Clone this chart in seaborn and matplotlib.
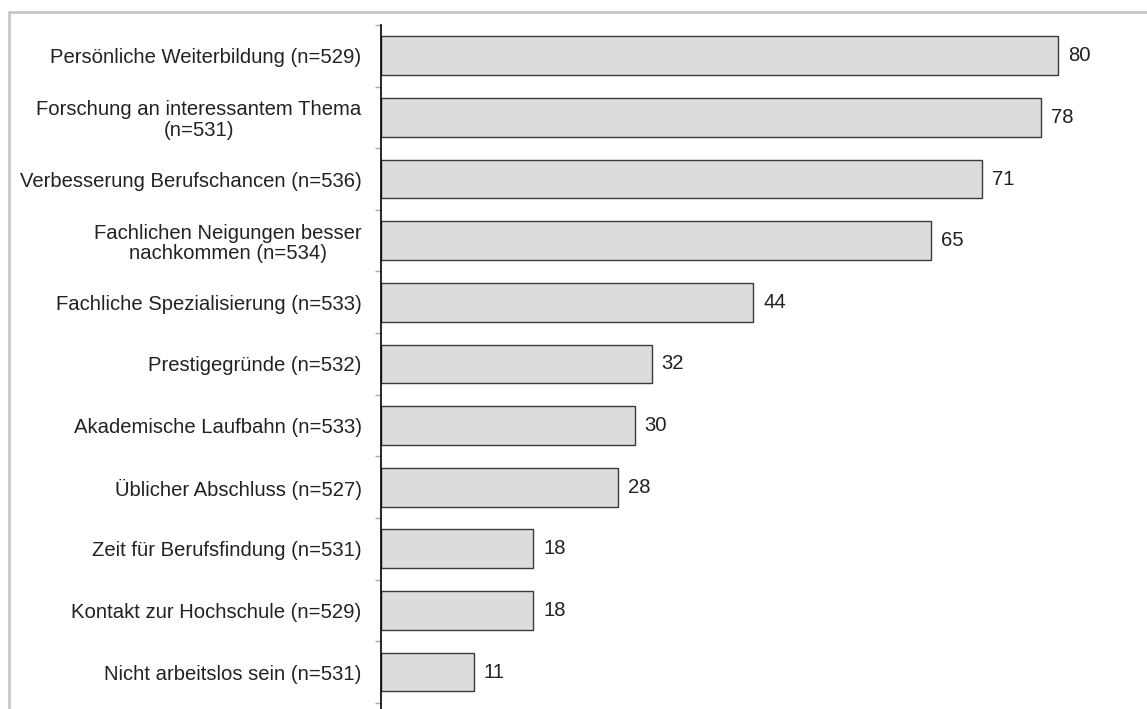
import matplotlib
matplotlib.use("Agg")
import matplotlib.pyplot as plt
import numpy as np
import pandas as pd
import seaborn as sns
from matplotlib.lines import Line2D

# data (percent)
labels = [
    "Persönliche Weiterbildung (n=529)",
    "Forschung an interessantem Thema\n(n=531)",
    "Verbesserung Berufschancen (n=536)",
    "Fachlichen Neigungen besser\nnachkommen (n=534)",
    "Fachliche Spezialisierung (n=533)",
    "Prestigegründe (n=532)",
    "Akademische Laufbahn (n=533)",
    "Üblicher Abschluss (n=527)",
    "Zeit für Berufsfindung (n=531)",
    "Kontakt zur Hochschule (n=529)",
    "Nicht arbeitslos sein (n=531)",
]
values = [80, 78, 71, 65, 44, 32, 30, 28, 18, 18, 11]

df = pd.DataFrame({"label": labels, "value": values})

sns.set_theme(style="white")
plt.rcParams["font.family"] = ["Liberation Sans", "DejaVu Sans"]

W, H = 1147, 709
fig = plt.figure(figsize=(W / 100, H / 100), dpi=100)

# axes placed in pixel terms
left_px, right_px, top_px = 381, 1120, 25
px_per_unit = (1058 - 381) / 80
ax = fig.add_axes([left_px / W, 0, (right_px - left_px) / W, 1 - top_px / H])

sns.barplot(
    data=df, y="label", x="value", orient="h", ax=ax,
    color="#dcdcdc", edgecolor="#3a3a3a", linewidth=1.0, width=0.63,
    saturation=1,
)

ax.set_xlim(0, (right_px - left_px) / px_per_unit)
ax.set_ylim(10.6, -0.5)
ax.set_xlabel("")
ax.set_ylabel("")
ax.set_xticks([])

for s in ["top", "right", "bottom"]:
    ax.spines[s].set_visible(False)
ax.spines["left"].set_color("black")
ax.spines["left"].set_linewidth(1.2)

ax.tick_params(axis="y", which="major", length=0, pad=14, labelsize=14.6,
               labelcolor="#222222")
for t in ax.get_yticklabels():
    t.set_multialignment("center")
    t.set_linespacing(1.12)
ax.set_yticks(np.arange(-0.5, len(labels)), minor=True)
ax.tick_params(axis="y", which="minor", length=4.5, width=1, color="#aaaaaa",
               direction="out", left=True)

ax.bar_label(ax.containers[0], labels=[str(v) for v in values], padding=7,
             fontsize=14.6, color="#222222")

# light frame around the chart (cropped at right and bottom)
frame_kw = dict(color="#c8c8c8", linewidth=2, transform=fig.transFigure)
fig.add_artist(Line2D([9 / W, 1], [1 - 12 / H, 1 - 12 / H], **frame_kw))
fig.add_artist(Line2D([9 / W, 9 / W], [0, 1 - 12 / H], **frame_kw))

fig.savefig("out.png", dpi=100)
